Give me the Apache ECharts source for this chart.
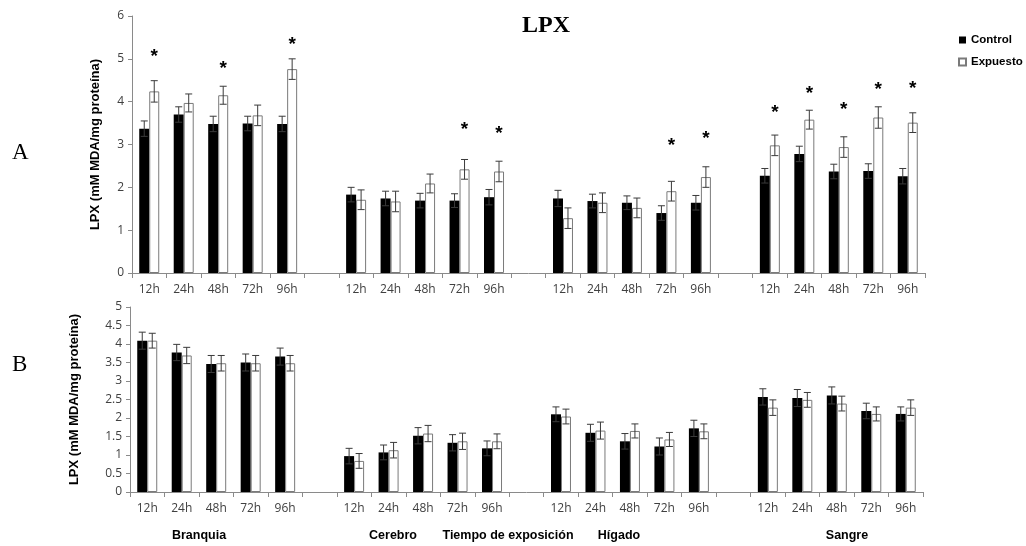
<!DOCTYPE html>
<html><head><meta charset="utf-8">
<script src="https://cdn.jsdelivr.net/npm/echarts@6/dist/echarts.min.js"></script>
<style>html,body{margin:0;padding:0;background:#fff}#c{width:1026px;height:546px}</style>
</head><body><div id="c"></div>
<script>
const groups = ['Branquia', 'Cerebro', 'Hígado', 'Sangre'];
const times = ['12h', '24h', '48h', '72h', '96h'];
const yTicksA = [0, 1, 2, 3, 4, 5, 6];
const yTicksB = [0, 0.5, 1, 1.5, 2, 2.5, 3, 3.5, 4, 4.5, 5];

// Panel A (Branquia, Cerebro, Hígado, Sangre x 12h..96h)
const aControl    = [3.37, 3.70, 3.48, 3.49, 3.48,  1.83, 1.74, 1.69, 1.69, 1.77,  1.74, 1.68, 1.64, 1.40, 1.64,  2.27, 2.78, 2.37, 2.38, 2.26];
const aControlErr = [0.18, 0.18, 0.18, 0.17, 0.18,  0.17, 0.17, 0.17, 0.16, 0.18,  0.19, 0.16, 0.16, 0.17, 0.17,  0.17, 0.18, 0.17, 0.17, 0.18];
const aExp        = [4.24, 3.97, 4.15, 3.68, 4.76,  1.71, 1.67, 2.09, 2.42, 2.37,  1.28, 1.64, 1.52, 1.91, 2.24,  2.98, 3.58, 2.94, 3.63, 3.51];
const aExpErr     = [0.25, 0.21, 0.21, 0.24, 0.24,  0.23, 0.24, 0.22, 0.23, 0.24,  0.24, 0.23, 0.23, 0.23, 0.24,  0.24, 0.22, 0.24, 0.25, 0.23];
// height of significance asterisks (null = none)
const aStar       = [5.15, null, 4.86, null, 5.43,  null, null, null, 3.43, 3.35,  null, null, null, 3.07, 3.22,  3.83, 4.27, 3.91, 4.37, 4.40];

// Panel B
const bControl    = [4.09, 3.77, 3.46, 3.50, 3.66,  0.97, 1.07, 1.52, 1.33, 1.18,  2.10, 1.60, 1.37, 1.23, 1.72,  2.57, 2.54, 2.61, 2.19, 2.11];
const bControlErr = [0.23, 0.22, 0.23, 0.23, 0.23,  0.21, 0.20, 0.22, 0.22, 0.20,  0.20, 0.23, 0.21, 0.23, 0.22,  0.22, 0.23, 0.23, 0.21, 0.19];
const bExp        = [4.09, 3.69, 3.48, 3.48, 3.48,  0.84, 1.13, 1.58, 1.37, 1.37,  2.04, 1.66, 1.65, 1.42, 1.64,  2.28, 2.49, 2.39, 2.11, 2.28];
const bExpErr     = [0.20, 0.22, 0.21, 0.21, 0.21,  0.20, 0.21, 0.22, 0.22, 0.20,  0.20, 0.23, 0.19, 0.19, 0.20,  0.21, 0.20, 0.20, 0.19, 0.21];

const yName = 'LPX (mM MDA/mg proteína)';
const groupLabels = ['Branquia', 'Cerebro', 'Tiempo de exposición', 'Hígado', 'Sangre'];

// build 23 categories (4 groups of 5 separated by empty slots)
const categories = [];
const slotIndex = [];
groups.forEach((g, gi) => {
  times.forEach(t => { slotIndex.push(categories.length); categories.push(t); });
  if (gi < groups.length - 1) categories.push('');
});
function expand(vals) {
  const out = categories.map(() => null);
  vals.forEach((v, i) => { out[slotIndex[i]] = v; });
  return out;
}
function errData(vals, errs, side) {
  return vals.map((v, i) => [slotIndex[i], v, errs[i], side]);
}
const BAR_W = 10;
const AXIS_COLOR = '#8a8a8a';
const LABEL_FONT = 'Open Sans';
const BOLD_FONT = 'Liberation Sans';

function errRender(params, api) {
  const x = api.value(0), v = api.value(1), e = api.value(2), side = api.value(3);
  const c = api.coord([x, v]);
  const cx = c[0] + (side ? BAR_W / 2 : -BAR_W / 2);
  const top = api.coord([x, v + e])[1];
  const bot = api.coord([x, v - e])[1];
  const cap = 3.5;
  const st = { stroke: '#3a3a3a', lineWidth: 1 };
  return { type: 'group', children: [
    { type: 'line', shape: { x1: cx, y1: top, x2: cx, y2: bot }, style: st },
    { type: 'line', shape: { x1: cx - cap, y1: top, x2: cx + cap, y2: top }, style: st },
    { type: 'line', shape: { x1: cx - cap, y1: bot, x2: cx + cap, y2: bot }, style: st }
  ]};
}
function starRender(params, api) {
  const x = api.value(0), v = api.value(1);
  const c = api.coord([x, v]);
  return { type: 'text', x: c[0] + BAR_W / 2, y: c[1] + 4,
    style: { text: '*', fontSize: 19, fontWeight: 'bold', fontFamily: BOLD_FONT, fill: '#000', align: 'center', verticalAlign: 'middle' } };
}

function xAxis(gi) {
  return { type: 'category', gridIndex: gi, data: categories, boundaryGap: true,
    axisLine: { lineStyle: { color: AXIS_COLOR } },
    axisTick: { show: true, interval: 0, alignWithLabel: false, length: 5, lineStyle: { color: AXIS_COLOR } },
    axisLabel: { interval: 0, margin: 11, fontFamily: LABEL_FONT, fontSize: 12, color: '#404040' } };
}
function yAxis(gi, max, interval, gap) {
  return { type: 'value', gridIndex: gi, min: 0, max: max, interval: interval,
    name: yName, nameLocation: 'middle', nameGap: gap, nameRotate: 90,
    nameTextStyle: { fontFamily: BOLD_FONT, fontWeight: 'bold', fontSize: 13, color: '#000' },
    axisLine: { show: true, lineStyle: { color: AXIS_COLOR } },
    axisTick: { show: true, length: 4, lineStyle: { color: AXIS_COLOR } },
    splitLine: { show: false },
    axisLabel: { margin: 8, fontFamily: LABEL_FONT, fontSize: 12, color: '#404040' } };
}
function barSeries(name, gi, vals, isCtrl) {
  return { name: name, type: 'bar', xAxisIndex: gi, yAxisIndex: gi, data: expand(vals),
    barWidth: BAR_W, barGap: '0%', z: 2,
    itemStyle: isCtrl ? { color: '#000' } : { color: '#fff', borderColor: '#7a7a7a', borderWidth: 1 } };
}

const chart = echarts.init(document.getElementById('c'), null, { renderer: 'canvas' });
const graphics = [
  { type: 'text', left: 522, top: 14, style: { text: 'LPX', font: 'bold 24px "Liberation Serif"', fill: '#000' } },
  { type: 'text', left: 12, top: 141, style: { text: 'A', font: '23px "Liberation Serif"', fill: '#000' } },
  { type: 'text', left: 12, top: 353, style: { text: 'B', font: '23px "Liberation Serif"', fill: '#000' } }
];
const groupCenters = [199, 393, 508, 619, 847];
groupLabels.forEach((t, i) => {
  graphics.push({ type: 'text', x: groupCenters[i], y: 536,
    style: { text: t, font: 'bold 12.5px "Liberation Sans"', fill: '#000', align: 'center', verticalAlign: 'middle' } });
});

chart.setOption({
  animation: false,
  backgroundColor: '#fff',
  legend: { orient: 'vertical', left: 953, top: 29, itemGap: 10, itemWidth: 7, itemHeight: 7, icon: 'rect',
    data: ['Control', 'Expuesto'],
    textStyle: { fontFamily: BOLD_FONT, fontWeight: 'bold', fontSize: 11.5, color: '#000' } },
  grid: [
    { left: 132, width: 793, top: 16, height: 257 },
    { left: 130, width: 793, top: 307, height: 185 }
  ],
  xAxis: [xAxis(0), xAxis(1)],
  yAxis: [yAxis(0, 6, 1, 30), yAxis(1, 5, 0.5, 49)],
  graphic: graphics,
  series: [
    barSeries('Control', 0, aControl, true),
    barSeries('Expuesto', 0, aExp, false),
    barSeries('Control', 1, bControl, true),
    barSeries('Expuesto', 1, bExp, false),
    { type: 'custom', xAxisIndex: 0, yAxisIndex: 0, z: 3, renderItem: errRender, data: errData(aControl, aControlErr, 0) },
    { type: 'custom', xAxisIndex: 0, yAxisIndex: 0, z: 3, renderItem: errRender, data: errData(aExp, aExpErr, 1) },
    { type: 'custom', xAxisIndex: 1, yAxisIndex: 1, z: 3, renderItem: errRender, data: errData(bControl, bControlErr, 0) },
    { type: 'custom', xAxisIndex: 1, yAxisIndex: 1, z: 3, renderItem: errRender, data: errData(bExp, bExpErr, 1) },
    { type: 'custom', xAxisIndex: 0, yAxisIndex: 0, z: 3, renderItem: starRender,
      data: aStar.map((v, i) => v == null ? null : [slotIndex[i], v]).filter(d => d) }
  ]
});
</script></body></html>
